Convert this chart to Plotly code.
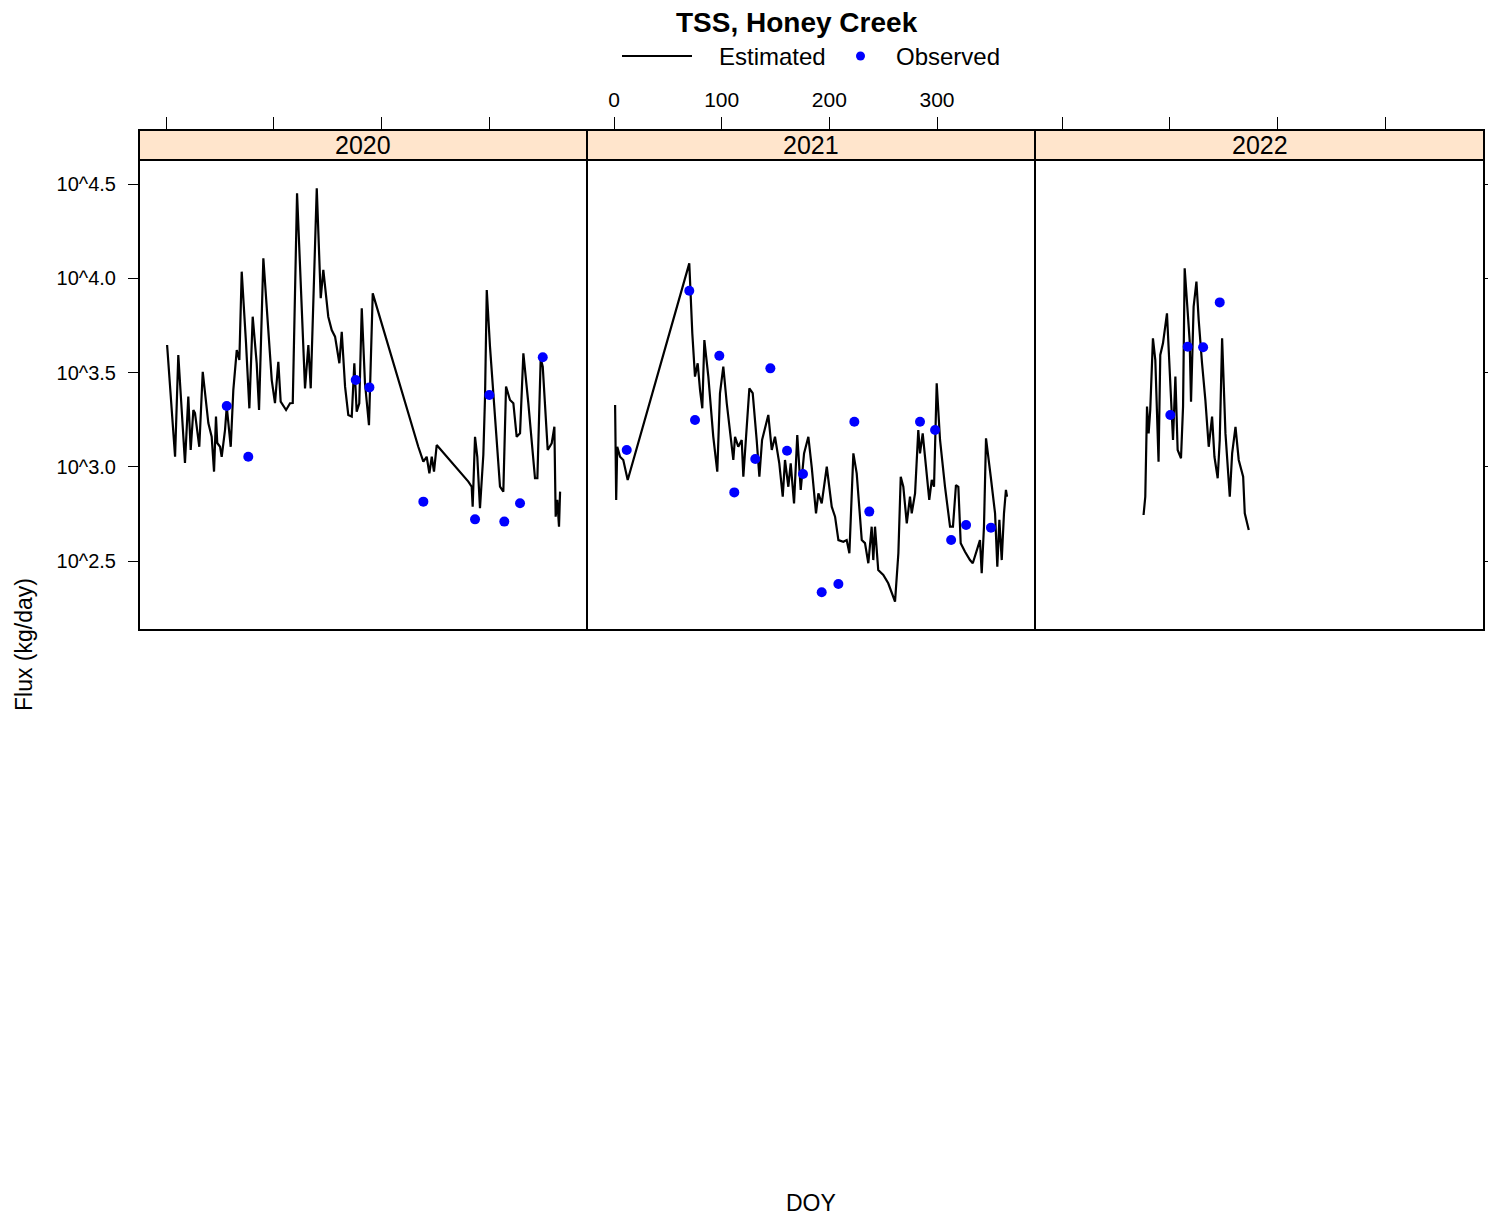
import plotly.graph_objects as go

# ---------------- data (DOY, log10 flux in kg/day) ----------------
years = ["2020", "2021", "2022"]

est_doy_2020 = [1, 8.4, 11.4, 17.6, 20.7, 22.9, 25.4, 26.9, 30.9, 34.1, 39.3, 42.4, 44.6, 46.4, 47.6, 50.2, 51.7,
                54.8, 56.4, 60.1, 62.5, 65.7, 68.1, 70.3, 74.3, 77.4, 80.5, 84.2, 86.4, 90.4, 95.0, 98.2, 101.2,
                104.3, 106.5, 111.5, 115.2, 117.7, 121.7, 129.1, 132.2, 134.4, 140.0, 143.7, 146.1, 148.6, 150.7,
                153.9, 157.0, 161.0, 163.2, 166.3, 169.3, 172.5, 174.9, 177.1, 179.5, 181.8, 184.8, 188.5, 191.1,
                192.0, 234.3, 237.5, 239.0, 242.1, 244.6, 246.8, 248.9, 251.4, 280.8, 283.9, 284.8, 287.0, 289.1,
                291.6, 294.7, 296.3, 297.9, 300.9, 305.6, 310.2, 313.3, 315.8, 319.5, 322.6, 325.7, 328.8, 331.9,
                336.5, 342.7, 344.9, 348.0, 349.9, 354.5, 358.2, 360.7, 361.9, 363.4, 365.0, 366.0]
est_log_2020 = [3.646, 3.053, 3.593, 3.020, 3.372, 3.089, 3.301, 3.285, 3.106, 3.504, 3.232, 3.159, 2.974, 3.266,
                3.126, 3.106, 3.053, 3.195, 3.319, 3.106, 3.407, 3.619, 3.566, 4.035, 3.656, 3.310, 3.796, 3.550,
                3.301, 4.106, 3.725, 3.460, 3.338, 3.557, 3.345, 3.301, 3.337, 3.338, 4.451, 3.416, 3.646, 3.416,
                4.477, 3.894, 4.044, 3.885, 3.796, 3.725, 3.690, 3.549, 3.716, 3.425, 3.275, 3.266, 3.549, 3.292,
                3.337, 3.841, 3.443, 3.221, 3.690, 3.920, 3.106, 3.053, 3.027, 3.053, 2.965, 3.053, 2.974, 3.115,
                2.921, 2.894, 2.788, 3.159, 3.053, 2.780, 3.062, 3.372, 3.938, 3.637, 3.284, 2.894, 2.868, 3.425,
                3.354, 3.337, 3.159, 3.177, 3.602, 3.337, 2.939, 2.939, 3.575, 3.531, 3.089, 3.124, 3.212, 2.735,
                2.824, 2.682, 2.868]
obs_doy_2020 = [56.4, 76.4, 176.2, 188.9, 239.0, 287.0, 300.3, 314.2, 328.8, 349.9]
obs_log_2020 = [3.322, 3.053, 3.460, 3.421, 2.815, 2.721, 3.381, 2.709, 2.806, 3.581]

est_doy_2021 = [1, 2, 3, 5.6, 8.6, 12.7, 69.9, 72.7, 75.2, 77.7, 79.9, 82.0, 83.9, 87.6, 92.2, 95.9, 98.4, 101.5,
                104.7, 108.7, 110.8, 112.4, 115.4, 118.6, 120.1, 125.7, 128.8, 132.5, 135.0, 137.5, 143.3, 146.5,
                149.5, 153.5, 156.7, 158.8, 161.9, 164.1, 167.2, 170.2, 173.4, 176.5, 180.5, 183.6, 187.6, 189.8,
                192.9, 197.6, 202.2, 205.3, 208.4, 213.0, 216.1, 218.6, 222.3, 225.4, 230.1, 233.1, 236.2, 239.3,
                240.8, 242.4, 245.4, 250.1, 254.7, 261.0, 262.5, 264.1, 266.3, 268.7, 271.9, 274.9, 276.5, 279.6,
                282.6, 284.2, 286.7, 290.4, 292.8, 295.1, 297.2, 299.7, 302.8, 307.4, 312.1, 314.8, 317.6, 319.8,
                322.0, 326.0, 330.6, 333.2, 336.2, 339.9, 341.5, 343.6, 345.5, 347.6, 349.9, 353.9, 356.0, 357.9,
                360.1, 362.2, 364.0, 365.0]
est_log_2021 = [3.328, 2.824, 3.106, 3.053, 3.036, 2.930, 4.079, 3.708, 3.478, 3.549, 3.407, 3.310, 3.672, 3.478,
                3.159, 2.974, 3.390, 3.531, 3.337, 3.142, 3.036, 3.159, 3.106, 3.142, 2.947, 3.416, 3.390, 3.142,
                2.947, 3.142, 3.275, 3.089, 3.159, 3.018, 2.841, 3.036, 2.894, 3.018, 2.806, 3.168, 2.877, 3.071,
                3.159, 3.000, 2.753, 2.859, 2.806, 3.000, 2.788, 2.735, 2.611, 2.602, 2.611, 2.541, 3.071, 2.965,
                2.611, 2.595, 2.488, 2.682, 2.505, 2.682, 2.452, 2.426, 2.382, 2.284, 2.417, 2.541, 2.947, 2.894,
                2.700, 2.841, 2.753, 2.859, 3.195, 3.071, 3.177, 2.965, 2.824, 2.930, 2.894, 3.443, 3.142, 2.894,
                2.682, 2.682, 2.903, 2.894, 2.594, 2.549, 2.505, 2.488, 2.549, 2.611, 2.435, 2.682, 3.151, 3.036,
                2.947, 2.753, 2.470, 2.718, 2.505, 2.753, 2.877, 2.841]
obs_doy_2021 = [11.8, 69.9, 75.2, 97.8, 111.7, 131.2, 145.2, 160.7, 175.5, 192.9, 208.4, 223.2, 237.1, 284.2,
                298.2, 313.1, 327.0, 350.1]
obs_log_2021 = [3.089, 3.934, 3.248, 3.589, 2.864, 3.041, 3.522, 3.085, 2.962, 2.334, 2.378, 3.239, 2.762, 3.239,
                3.195, 2.611, 2.691, 2.677]

est_doy_2022 = [75.5, 77.1, 78.7, 80.2, 81.7, 84.2, 86.4, 89.4, 91.0, 93.5, 97.2, 100.3, 102.8, 105.0, 107.1,
                110.2, 112.1, 113.6, 115.8, 118.2, 119.5, 121.9, 124.5, 126.6, 129.7, 132.8, 135.9, 139.0, 141.2,
                144.2, 146.1, 148.3, 151.4, 155.4, 157.6, 160.7, 163.7, 167.8, 169.3, 173.0]
est_log_2022 = [2.744, 2.841, 3.319, 3.177, 3.301, 3.681, 3.566, 3.027, 3.593, 3.655, 3.814, 3.478, 3.142, 3.478,
                3.089, 3.045, 3.319, 4.053, 3.849, 3.672, 3.345, 3.849, 3.982, 3.779, 3.549, 3.354, 3.106, 3.266,
                3.053, 2.939, 3.142, 3.681, 3.177, 2.841, 3.071, 3.212, 3.036, 2.947, 2.753, 2.664]
obs_doy_2022 = [100.3, 116.4, 130.7, 146.1]
obs_log_2022 = [3.275, 3.637, 3.634, 3.872]

x_tickvals = [0, 100, 200, 300]
y_tickvals = [2.5, 3.0, 3.5, 4.0, 4.5]
y_ticktext = ["10^2.5", "10^3.0", "10^3.5", "10^4.0", "10^4.5"]

est_doy = [est_doy_2020, est_doy_2021, est_doy_2022]
est_log = [est_log_2020, est_log_2021, est_log_2022]
obs_doy = [obs_doy_2020, obs_doy_2021, obs_doy_2022]
obs_log = [obs_log_2020, obs_log_2021, obs_log_2022]

# ---------------- layout geometry ----------------
W, H = 1488, 1219
FONT = "Arial, Liberation Sans, sans-serif"


def px(x):
    return min(x / W, 1.0)


def py(y):
    return 1 - y / H


panel_x = [(139, 587), (587, 1035), (1035, 1484)]
strip_top, strip_bot, panel_bot = 130, 160, 630
x_range = [-25.1, 391.0]
y_range = [2.134, 4.7865]

fig = go.Figure()
layout = dict(
    width=W, height=H, margin=dict(l=0, r=0, t=0, b=0),
    paper_bgcolor="white", plot_bgcolor="white", showlegend=False,
    font=dict(family=FONT, color="black"),
)
shapes = []
annotations = []

for i, yr in enumerate(years):
    xa = "x" if i == 0 else f"x{i+1}"
    ya = "y" if i == 0 else f"y{i+1}"
    fig.add_trace(go.Scatter(x=est_doy[i], y=est_log[i], mode="lines", name="Estimated",
                             line=dict(color="black", width=2.2), xaxis=xa, yaxis=ya))
    fig.add_trace(go.Scatter(x=obs_doy[i], y=obs_log[i], mode="markers", name="Observed",
                             marker=dict(color="#0000FF", size=10, line=dict(width=0)), xaxis=xa, yaxis=ya))
    x0, x1 = panel_x[i]
    layout["xaxis" if i == 0 else f"xaxis{i+1}"] = dict(
        domain=[px(x0), px(x1)], range=x_range, anchor=ya, side="top",
        tickvals=x_tickvals, ticks="outside", ticklen=12, tickwidth=1.3, tickcolor="black",
        showticklabels=(i == 1), tickfont=dict(size=21, family=FONT), ticklabelstandoff=2,
        showgrid=False, zeroline=False, showline=False,
    )
    ydict = dict(
        domain=[py(panel_bot), py(strip_top)], range=y_range, anchor=xa,
        tickvals=y_tickvals, ticktext=y_ticktext, showgrid=False, zeroline=False, showline=False,
        tickfont=dict(size=20, family=FONT), tickcolor="black", tickwidth=1.3,
    )
    if i == 0:
        ydict.update(side="left", ticks="outside", ticklen=10, showticklabels=True, ticklabelstandoff=8)
    elif i == 2:
        ydict.update(side="right", ticks="outside", ticklen=3, showticklabels=False)
    else:
        ydict.update(ticks="", showticklabels=False)
    layout["yaxis" if i == 0 else f"yaxis{i+1}"] = ydict

    # strip
    shapes.append(dict(type="rect", xref="paper", yref="paper", x0=px(x0), x1=px(x1),
                       y0=py(strip_bot), y1=py(strip_top), fillcolor="#FFE5CC",
                       line=dict(color="black", width=2), layer="below"))
    # panel frame
    shapes.append(dict(type="rect", xref="paper", yref="paper", x0=px(x0), x1=px(x1),
                       y0=py(panel_bot), y1=py(strip_top), fillcolor="rgba(0,0,0,0)",
                       line=dict(color="black", width=2), layer="above"))
    annotations.append(dict(text=yr, x=px((x0 + x1) / 2), y=py((strip_top + strip_bot) / 2),
                            xref="paper", yref="paper", showarrow=False,
                            font=dict(size=25, family=FONT), xanchor="center", yanchor="middle"))

# title + manual legend
annotations.append(dict(text="<b>TSS, Honey Creek</b>", x=px(797), y=py(23), xref="paper", yref="paper",
                        showarrow=False, font=dict(size=28, family=FONT), xanchor="center", yanchor="middle"))
shapes.append(dict(type="line", xref="paper", yref="paper", x0=px(622), x1=px(692), y0=py(56), y1=py(56),
                   line=dict(color="black", width=2)))
shapes.append(dict(type="circle", xref="paper", yref="paper", x0=px(856), x1=px(865), y0=py(60.5), y1=py(51.5),
                   fillcolor="#0000FF", line=dict(width=0)))
annotations.append(dict(text="Estimated", x=px(717), y=py(56), xref="paper", yref="paper", showarrow=False,
                        font=dict(size=24, family=FONT), xanchor="left", yanchor="middle"))
annotations.append(dict(text="Observed", x=px(894), y=py(56), xref="paper", yref="paper", showarrow=False,
                        font=dict(size=24, family=FONT), xanchor="left", yanchor="middle"))
# axis titles
annotations.append(dict(text="DOY", x=px(811), y=py(1203), xref="paper", yref="paper", showarrow=False,
                        font=dict(size=23, family=FONT), xanchor="center", yanchor="middle"))
annotations.append(dict(text="Flux (kg/day)", x=px(24), y=py(645), xref="paper", yref="paper", showarrow=False,
                        textangle=-90, font=dict(size=23, family=FONT), xanchor="center", yanchor="middle"))

layout["shapes"] = shapes
layout["annotations"] = annotations
fig.update_layout(**layout)

fig.write_html("out.html", config={"displayModeBar": False},
               post_script="document.body.style.margin='0';document.body.style.overflow='hidden';"
                           "document.documentElement.style.overflow='hidden';")
